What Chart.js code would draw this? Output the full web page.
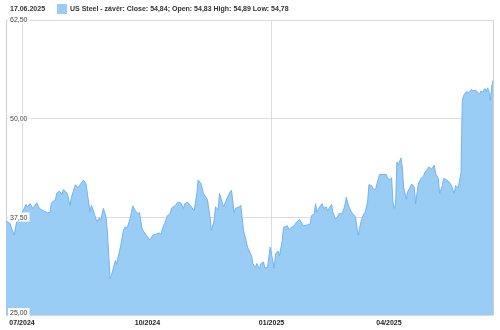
<!DOCTYPE html>
<html>
<head>
<meta charset="utf-8">
<script src="https://cdn.jsdelivr.net/npm/chart.js@4"></script>
<style>
  html, body { margin: 0; padding: 0; background: #fff; }
  #wrap { width: 500px; height: 330px; position: relative; }
</style>
</head>
<body>
<div id="wrap"><canvas id="chart"></canvas></div>
<script>
// days since 17.06.2024 and closing price
const days = [0, 3, 6, 8, 12, 15, 16, 18, 20, 23, 25, 28, 31, 33, 34, 37, 38, 40, 42, 43, 46, 48, 49, 52, 54, 55, 58, 60, 61, 63, 64, 67, 68, 70, 71, 73, 75, 76, 78, 79, 82, 83, 84, 86, 88, 89, 91, 93, 95, 97, 99, 100, 102, 105, 108, 110, 112, 115, 116, 118, 119, 121, 123, 124, 127, 129, 131, 133, 134, 136, 139, 141, 143, 144, 146, 148, 151, 153, 154, 156, 157, 159, 160, 162, 163, 166, 168, 169, 171, 172, 175, 176, 178, 180, 181, 184, 185, 187, 188, 190, 191, 193, 194, 196, 198, 199, 201, 202, 204, 205, 207, 208, 211, 212, 214, 216, 218, 220, 221, 223, 226, 228, 229, 231, 232, 233, 235, 237, 238, 240, 241, 244, 245, 247, 250, 252, 254, 255, 257, 259, 262, 263, 264, 266, 268, 269, 271, 272, 274, 275, 277, 278, 280, 283, 285, 286, 288, 289, 290, 291, 292, 293, 294, 296, 297, 298, 300, 301, 303, 304, 306, 307, 309, 311, 313, 314, 316, 317, 319, 321, 322, 324, 325, 327, 328, 330, 332, 334, 335, 336, 337, 339, 340, 341, 342, 343, 345, 347, 349, 350, 352, 353, 355, 356, 357, 359, 360, 361, 362, 363, 364, 365];
const close = [37.0, 36.7, 35.2, 36.9, 38.0, 39.1, 38.8, 39.2, 38.6, 39.3, 38.6, 38.3, 38.05, 38.1, 39.3, 39.7, 40.5, 40.8, 40.4, 41.0, 40.5, 38.9, 40.0, 41.6, 41.2, 41.5, 42.2, 41.7, 40.5, 38.1, 39.0, 37.5, 36.9, 37.4, 37.1, 38.6, 37.5, 35.6, 29.7, 30.1, 32.0, 31.5, 32.4, 33.9, 35.8, 36.2, 36.2, 37.3, 38.9, 38.3, 37.9, 38.1, 36.0, 35.2, 34.6, 35.2, 35.3, 35.5, 35.3, 36.4, 36.7, 37.7, 37.9, 38.6, 39.0, 39.4, 39.3, 38.6, 39.2, 39.4, 38.8, 38.3, 40.5, 42.2, 41.8, 40.5, 39.7, 37.3, 35.8, 37.1, 38.8, 38.4, 40.5, 39.4, 38.8, 40.0, 40.7, 40.9, 38.1, 38.6, 38.8, 39.0, 35.8, 34.5, 33.7, 32.6, 31.6, 31.1, 31.6, 30.9, 31.6, 31.8, 31.05, 31.1, 33.7, 32.8, 31.0, 32.8, 33.2, 32.6, 34.5, 36.2, 36.4, 35.9, 36.2, 36.4, 36.9, 37.2, 36.9, 36.4, 36.5, 36.65, 37.7, 37.9, 39.2, 38.1, 38.8, 39.2, 38.6, 38.8, 38.3, 39.1, 38.1, 37.2, 38.0, 37.9, 39.0, 40.0, 38.8, 38.1, 37.5, 36.2, 35.2, 36.9, 37.9, 38.0, 39.4, 41.6, 41.5, 41.1, 41.0, 41.7, 42.9, 42.9, 42.9, 42.4, 42.25, 42.5, 39.4, 38.6, 39.2, 44.5, 44.1, 45.0, 43.85, 41.3, 39.8, 40.7, 41.3, 41.7, 41.3, 39.2, 41.7, 42.4, 42.7, 43.2, 43.6, 43.85, 43.6, 44.1, 43.0, 42.4, 40.5, 41.5, 42.4, 42.25, 41.95, 41.5, 40.9, 40.5, 41.5, 41.2, 42.2, 43.0, 52.3, 52.95, 53.4, 53.3, 53.7, 53.5, 53.6, 53.4, 53.1, 53.5, 53.3, 53.8, 53.4, 53.9, 53.4, 52.3, 54.0, 54.84];

// month ticks (position on the day axis) and their labels
const tickDays = [12, 106, 199, 287];
const tickLabels = ['07/2024', '10/2024', '01/2025', '04/2025'];
const gridTicks = ['07/2024', '01/2025'];
const yTicks = [25, 37.5, 50, 62.5];

const headerDate = '17.06.2025';
const seriesLabel = 'US Steel - závěr: Close: 54,84; Open: 54,83 High: 54,89 Low: 54,78';

const fillColor = '#9acdf6';
const lineColor = '#72b3ec';

const points = days.map((d, i) => ({ x: d, y: close[i] }));
const fmt = v => v.toFixed(2).replace('.', ',');

// header, right frame line, and y labels drawn over the area fill
const overlayPlugin = {
  id: 'overlay',
  afterDatasetsDraw(chart) {
    const ctx = chart.ctx;
    const a = chart.chartArea;
    const y = chart.scales.y;
    ctx.save();
    ctx.strokeStyle = '#d0d0d0';
    ctx.lineWidth = 1;
    ctx.beginPath();
    ctx.moveTo(Math.round(a.right) + 0.5, a.top);
    ctx.lineTo(Math.round(a.right) + 0.5, a.bottom);
    ctx.stroke();

    ctx.font = '7px Arial';
    ctx.textBaseline = 'middle';
    y.ticks.forEach(t => {
      let py = y.getPixelForValue(t.value);
      if (py > a.bottom - 4) py = a.bottom - 3;
      const label = fmt(t.value);
      const w = ctx.measureText(label).width;
      ctx.fillStyle = '#fff';
      ctx.fillRect(a.left + 2, py - 4.5, w + 4, 9);
      ctx.fillStyle = '#444';
      ctx.fillText(label, a.left + 4, py + 0.5);
    });

    ctx.font = 'bold 7px Arial';
    ctx.fillStyle = '#333';
    ctx.fillText(headerDate, 10, 9);
    ctx.fillStyle = fillColor;
    ctx.fillRect(57, 4, 10, 10);
    ctx.fillStyle = '#333';
    ctx.fillText(seriesLabel, 70, 9);
    ctx.restore();
  }
};

new Chart(document.getElementById('chart'), {
  type: 'line',
  data: {
    datasets: [{
      label: seriesLabel,
      data: points,
      borderColor: lineColor,
      backgroundColor: fillColor,
      borderWidth: 1,
      pointRadius: 0,
      tension: 0,
      fill: 'start'
    }]
  },
  options: {
    responsive: true,
    maintainAspectRatio: false,
    animation: false,
    layout: { padding: { top: 20, left: 6, right: 7, bottom: 0 } },
    plugins: {
      legend: { display: false },
      tooltip: { enabled: false }
    },
    scales: {
      x: {
        type: 'linear',
        min: 0,
        max: 365,
        afterBuildTicks: axis => { axis.ticks = tickDays.map(v => ({ value: v })); },
        ticks: {
          callback: v => tickLabels[tickDays.indexOf(v)],
          font: { family: 'Arial', size: 7, weight: 'bold' },
          color: '#222',
          padding: 3,
          maxRotation: 0,
          autoSkip: false
        },
        grid: {
          drawTicks: false,
          color: c => (c.tick && gridTicks.includes(tickLabels[tickDays.indexOf(c.tick.value)])) ? '#dcdcdc' : 'rgba(0,0,0,0)'
        },
        border: { display: false }
      },
      y: {
        min: 25,
        max: 62.5,
        afterBuildTicks: axis => { axis.ticks = yTicks.map(v => ({ value: v })); },
        ticks: { display: false },
        grid: { drawTicks: false, color: '#dcdcdc' },
        border: { display: true, color: '#d0d0d0' }
      }
    }
  },
  plugins: [overlayPlugin]
});
</script>
</body>
</html>
